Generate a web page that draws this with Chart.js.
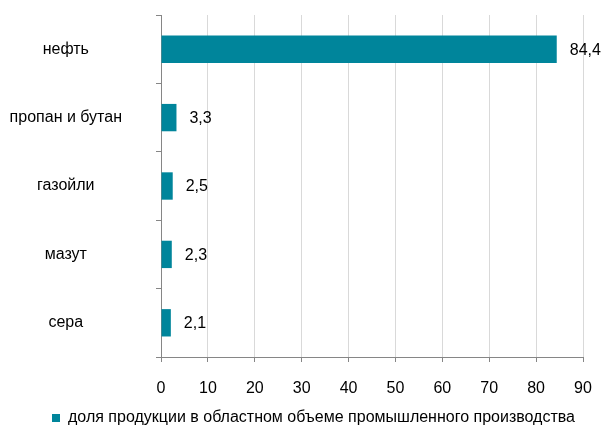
<!DOCTYPE html>
<html>
<head>
<meta charset="utf-8">
<script src="https://cdn.jsdelivr.net/npm/chart.js@4/dist/chart.umd.min.js"></script>
<style>
    body { margin: 0; background: #fff; }
    #wrap { width: 601px; height: 426px; position: relative; }
</style>
</head>
<body>
<div id="wrap"><canvas id="chart"></canvas></div>
<script>
const categories = ['нефть', 'пропан и бутан', 'газойли', 'мазут', 'сера'];
const shareValues = [84.4, 3.3, 2.5, 2.3, 2.1];
const seriesName = 'доля продукции в областном объеме промышленного производства';
const xTicks = [0, 10, 20, 30, 40, 50, 60, 70, 80, 90];

const FONT = "'Liberation Sans', Arial, sans-serif";
const TEAL = '#00859b';

// подписи значений справа от столбцов
const valueLabels = {
    id: 'valueLabels',
    afterDatasetsDraw(chart) {
        const ctx = chart.ctx;
        const meta = chart.getDatasetMeta(0);
        ctx.save();
        ctx.font = '16px ' + FONT;
        ctx.fillStyle = '#000';
        ctx.textAlign = 'left';
        ctx.textBaseline = 'middle';
        meta.data.forEach((bar, i) => {
            const text = String(shareValues[i]).replace('.', ',');
            ctx.fillText(text, bar.x + 13, bar.y + 1);
        });
        ctx.restore();
    }
};

new Chart(document.getElementById('chart'), {
    type: 'bar',
    data: {
        labels: categories,
        datasets: [{
            label: seriesName,
            data: shareValues,
            backgroundColor: TEAL,
            borderWidth: 0,
            barPercentage: 0.4,
            categoryPercentage: 1
        }]
    },
    options: {
        indexAxis: 'y',
        responsive: true,
        maintainAspectRatio: false,
        animation: false,
        layout: { padding: { top: 15, right: 18, left: 0, bottom: -10 } },
        plugins: {
            tooltip: { enabled: false },
            legend: {
                position: 'bottom',
                align: 'end',
                labels: {
                    color: '#000',
                    font: { family: FONT, size: 16 },
                    boxWidth: 8,
                    boxHeight: 8,
                    padding: 8
                }
            }
        },
        scales: {
            x: {
                min: 0,
                max: 90,
                afterBuildTicks: (scale) => {
                    scale.ticks = xTicks.map(v => ({ value: v }));
                },
                afterFit: (scale) => {
                    scale.height = 45;
                    scale.paddingLeft = 0;
                    scale.paddingRight = 0;
                },
                grid: {
                    color: '#d9d9d9',
                    tickColor: '#868686',
                    tickLength: 5
                },
                border: { color: '#868686' },
                ticks: {
                    color: '#000',
                    font: { family: FONT, size: 16 },
                    padding: 17,
                    maxRotation: 0
                }
            },
            y: {
                afterFit: (scale) => {
                    scale.width = 161;
                    scale.paddingTop = 0;
                    scale.paddingBottom = 0;
                },
                grid: {
                    drawOnChartArea: false,
                    tickColor: '#868686',
                    tickLength: 5
                },
                border: { color: '#868686' },
                ticks: {
                    color: '#000',
                    font: { family: FONT, size: 16 },
                    crossAlign: 'center',
                    padding: 34
                }
            }
        }
    },
    plugins: [valueLabels]
});
</script>
</body>
</html>
